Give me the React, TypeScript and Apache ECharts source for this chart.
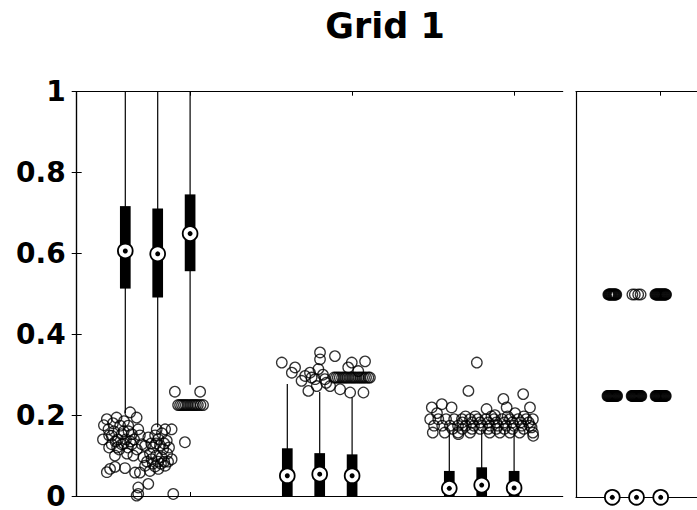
import React, { useEffect, useRef } from "react";
import * as echarts from "echarts";

// ---- Data ----
const titleText = "Grid 1";
const yTicks = { min: 0, max: 1, interval: 0.2 };
const leftTickPositions = [3.5, 8.5, 13.5];
const rightTickPositions = [3.5];

// box stats: [position, whiskerLow, q1, median, q3, whiskerHigh]
const leftBoxes = [
  [1.5, 0.205, 0.513, 0.606, 0.717, 1],
  [2.5, 0.17, 0.491, 0.599, 0.711, 1],
  [3.5, 0.275, 0.556, 0.649, 0.746, 1],
  [6.5, 0, 0, 0.05, 0.118, 0.277],
  [7.5, 0, 0, 0.054, 0.106, 0.257],
  [8.5, 0, 0, 0.05, 0.103, 0.244],
  [11.5, 0, 0, 0.019, 0.062, 0.16],
  [12.5, 0, 0, 0.027, 0.071, 0.165],
  [13.5, 0, 0, 0.02, 0.062, 0.16],
];
const rightBoxes = [
  [1.5, 0, 0, 0, 0, 0],
  [2.5, 0, 0, 0, 0, 0],
  [3.5, 0, 0, 0, 0, 0],
];

// scattered observations [x, value]
const group1Points = [
  [0.93, 0.19], [1.23, 0.194], [1.65, 0.207], [1.85, 0.194], [0.98, 0.165], [1.34, 0.174],
  [1.59, 0.174], [1.9, 0.165], [1.08, 0.149], [1.39, 0.153], [1.7, 0.153], [1.08, 0.128],
  [1.39, 0.128], [1.7, 0.128], [2.01, 0.128], [1.18, 0.1], [1.03, 0.067], [1.18, 0.072],
  [1.49, 0.069], [0.93, 0.059], [1.8, 0.058], [1.27, 0.14], [1.52, 0.14], [1.77, 0.14],
  [1.12, 0.18], [1.46, 0.185], [0.84, 0.175], [0.81, 0.14], [1.95, 0.15], [1.31, 0.115],
  [1.58, 0.12], [1.86, 0.115], [1.0, 0.15], [1.15, 0.16], [1.45, 0.16], [1.6, 0.16],
  [1.2, 0.135], [1.45, 0.13], [1.65, 0.135], [1.0, 0.12], [1.25, 0.12], [1.55, 0.105],
  [1.75, 0.1],
  [2.47, 0.165], [2.73, 0.165], [2.93, 0.165], [2.21, 0.145], [2.52, 0.141], [2.78, 0.137],
  [2.11, 0.124], [2.36, 0.12], [2.67, 0.116], [3.34, 0.133], [2.06, 0.096], [2.31, 0.091],
  [2.62, 0.096], [2.93, 0.091], [2.11, 0.075], [2.42, 0.073], [2.73, 0.075], [1.95, 0.058],
  [2.26, 0.062], [2.52, 0.067], [2.21, 0.03], [1.9, 0.021], [1.9, 0.005], [1.85, 0.001],
  [2.98, 0.005], [2.26, 0.105], [2.51, 0.085], [2.79, 0.105], [2.42, 0.15], [2.63, 0.155],
  [2.17, 0.085], [2.82, 0.085], [2.57, 0.125], [2.3, 0.13], [2.45, 0.13], [2.7, 0.13],
  [2.35, 0.08], [2.6, 0.08], [2.45, 0.1], [2.7, 0.085], [2.85, 0.12],
  [3.03, 0.258], [3.81, 0.258], [3.13, 0.225], [3.19, 0.225], [3.25, 0.225], [3.31, 0.225],
  [3.37, 0.225], [3.43, 0.225], [3.5, 0.225], [3.56, 0.225], [3.62, 0.225], [3.68, 0.225],
  [3.74, 0.225], [3.82, 0.225], [3.9, 0.225],
];
const group2Points = [
  [6.33, 0.33], [6.74, 0.318], [6.64, 0.305], [6.94, 0.285], [7.15, 0.26], [7.2, 0.305],
  [7.05, 0.297],
  [7.51, 0.355], [7.51, 0.338], [7.97, 0.346], [7.46, 0.314], [7.36, 0.289], [7.41, 0.272],
  [7.66, 0.289], [7.82, 0.272], [7.25, 0.293], [7.6, 0.3], [7.7, 0.28],
  [8.13, 0.264], [8.49, 0.33], [8.9, 0.333], [8.38, 0.318], [8.69, 0.309], [7.94, 0.293],
  [8.06, 0.293], [8.19, 0.293], [8.31, 0.293], [8.44, 0.293], [8.56, 0.293], [8.69, 0.293],
  [8.81, 0.293], [8.93, 0.293], [9.05, 0.293], [8.0, 0.293], [8.12, 0.293], [8.25, 0.293],
  [8.37, 0.293], [8.5, 0.293], [8.62, 0.293], [8.75, 0.293], [8.87, 0.293], [9.0, 0.293],
  [8.44, 0.256], [8.85, 0.256],
];
const group3Points = [
  [12.35, 0.33], [12.09, 0.26], [13.78, 0.252], [10.96, 0.219], [11.27, 0.227], [11.57, 0.219],
  [13.17, 0.24], [12.65, 0.215], [13.27, 0.219], [13.99, 0.219],
  [10.91, 0.19], [11.16, 0.19], [11.4, 0.19], [11.65, 0.19], [11.89, 0.19], [12.14, 0.19],
  [12.38, 0.19], [12.63, 0.19], [12.88, 0.19], [13.13, 0.19], [13.37, 0.19], [13.62, 0.19],
  [13.87, 0.19], [14.08, 0.19],
  [11.03, 0.174], [11.28, 0.174], [11.52, 0.174], [11.77, 0.174], [12.01, 0.174], [12.26, 0.174],
  [12.51, 0.174], [12.75, 0.174], [13.0, 0.174], [13.25, 0.174], [13.49, 0.174], [13.74, 0.174],
  [13.99, 0.174],
  [10.99, 0.157], [11.36, 0.157], [11.77, 0.157], [12.14, 0.157], [12.75, 0.157], [13.06, 0.157],
  [13.37, 0.157], [13.67, 0.157], [14.08, 0.157], [11.78, 0.153], [14.09, 0.149], [14.04, 0.17],
  [11.12, 0.205], [13.53, 0.205], [12.91, 0.2],
  [11.9, 0.182], [12.2, 0.182], [12.45, 0.182], [12.7, 0.182], [12.95, 0.182], [13.2, 0.182],
  [13.45, 0.182], [13.7, 0.182], [13.95, 0.182],
  [11.6, 0.166], [11.9, 0.166], [12.2, 0.166], [12.45, 0.166], [12.7, 0.166], [12.95, 0.166],
  [13.2, 0.166], [13.45, 0.166], [13.8, 0.166],
  [12.0, 0.197], [12.3, 0.197], [12.8, 0.197], [13.3, 0.197], [13.8, 0.197],
];
const rightPointsHigh = [
  [1.335, 0.5], [1.36, 0.5], [1.385, 0.5], [1.41, 0.5], [1.435, 0.5], [1.46, 0.5], [1.485, 0.5],
  [1.515, 0.5], [1.54, 0.5], [1.565, 0.5], [1.59, 0.5], [1.615, 0.5], [1.64, 0.5], [1.665, 0.5],
  [2.33, 0.5], [2.43, 0.5], [2.57, 0.5], [2.67, 0.5],
  [3.28, 0.5], [3.305, 0.5], [3.33, 0.5], [3.355, 0.5], [3.38, 0.5], [3.405, 0.5], [3.43, 0.5],
  [3.455, 0.5], [3.48, 0.5], [3.505, 0.5], [3.53, 0.5], [3.555, 0.5], [3.58, 0.5], [3.605, 0.5],
  [3.63, 0.5], [3.655, 0.5], [3.68, 0.5], [3.705, 0.5], [3.72, 0.5],
];
const rightPointsLow = [
  [1.3, 0.25], [1.325, 0.25], [1.35, 0.25], [1.375, 0.25], [1.4, 0.25], [1.425, 0.25], [1.45, 0.25],
  [1.475, 0.25], [1.5, 0.25], [1.525, 0.25], [1.55, 0.25], [1.575, 0.25], [1.6, 0.25], [1.625, 0.25],
  [1.65, 0.25], [1.675, 0.25], [1.7, 0.25],
  [2.3, 0.25], [2.325, 0.25], [2.35, 0.25], [2.375, 0.25], [2.4, 0.25], [2.425, 0.25], [2.45, 0.25],
  [2.475, 0.25], [2.5, 0.25], [2.525, 0.25], [2.55, 0.25], [2.575, 0.25], [2.6, 0.25], [2.625, 0.25],
  [2.65, 0.25], [2.675, 0.25], [2.7, 0.25],
  [3.29, 0.25], [3.315, 0.25], [3.34, 0.25], [3.365, 0.25], [3.39, 0.25], [3.415, 0.25], [3.44, 0.25],
  [3.465, 0.25], [3.49, 0.25], [3.515, 0.25], [3.54, 0.25], [3.565, 0.25], [3.59, 0.25], [3.615, 0.25],
  [3.64, 0.25], [3.665, 0.25], [3.69, 0.25], [3.71, 0.25],
];

const FONT = "DejaVu Sans";

function renderBox(params: any, api: any) {
  const x = api.value(0);
  const lo = api.coord([x, api.value(1)]);
  const q1 = api.coord([x, api.value(2)]);
  const med = api.coord([x, api.value(3)]);
  const q3 = api.coord([x, api.value(4)]);
  const hi = api.coord([x, api.value(5)]);
  const w = 10.7;
  return {
    type: "group",
    children: [
      { type: "line", shape: { x1: lo[0], y1: lo[1], x2: hi[0], y2: hi[1] }, style: { stroke: "#000", lineWidth: 1.2 } },
      { type: "rect", shape: { x: q3[0] - w / 2, y: q3[1], width: w, height: Math.max(0, q1[1] - q3[1]) }, style: { fill: "#000" } },
      { type: "circle", shape: { cx: med[0], cy: med[1], r: 7.4 }, style: { fill: "#fff", stroke: "#000", lineWidth: 1.8 } },
      { type: "circle", shape: { cx: med[0], cy: med[1], r: 2.5 }, style: { fill: "#000" } },
    ],
  };
}

const pointStyle = { color: "rgba(0,0,0,0)", borderColor: "#000", borderWidth: 1.3 };

export default function App() {
  const ref = useRef<HTMLDivElement>(null);
  useEffect(() => {
    if (!ref.current) return;
    const chart = echarts.init(ref.current, null, { renderer: "svg" });
    const gridTop = 91.7;
    const gridH = 405.6;
    const xBase = (gridIndex: number, min: number, max: number, position: string, ticks: number[] | null) => ({
      type: "value",
      gridIndex,
      min,
      max,
      position,
      axisLine: { show: true, onZero: false, lineStyle: { color: "#000", width: 1.2 } },
      axisTick: ticks
        ? { show: true, inside: true, length: 4, customValues: ticks, lineStyle: { color: "#000" } }
        : { show: false },
      axisLabel: { show: false },
      splitLine: { show: false },
    });
    const yAxisLine = { show: true, lineStyle: { color: "#000", width: 1.2 } };
    chart.setOption({
      animation: false,
      backgroundColor: "#fff",
      title: {
        text: titleText,
        left: 380,
        top: 3,
        textAlign: "center",
        textStyle: { fontFamily: FONT, fontWeight: "bold", fontSize: 35, color: "#000" },
      },
      grid: [
        { left: 76.7, top: gridTop, width: 486, height: gridH, show: false },
        { left: 576, top: gridTop, width: 121.5, height: gridH, show: false },
      ],
      xAxis: [
        xBase(0, 0, 15, "bottom", leftTickPositions),
        xBase(0, 0, 15, "top", leftTickPositions),
        xBase(1, 0, 5, "bottom", null),
        xBase(1, 0, 5, "top", rightTickPositions),
      ],
      yAxis: [
        {
          type: "value", gridIndex: 0, position: "left", min: yTicks.min, max: yTicks.max, interval: yTicks.interval,
          axisLine: yAxisLine,
          axisTick: { show: true, inside: true, length: 5, lineStyle: { color: "#000" } },
          axisLabel: { show: true, margin: 11, color: "#000", fontFamily: FONT, fontWeight: "bold", fontSize: 28 },
          splitLine: { show: false },
        },
        {
          type: "value", gridIndex: 0, position: "right", min: yTicks.min, max: yTicks.max, interval: yTicks.interval,
          axisLine: yAxisLine,
          axisTick: { show: true, inside: true, length: 5, lineStyle: { color: "#000" } },
          axisLabel: { show: false },
          splitLine: { show: false },
        },
        {
          type: "value", gridIndex: 1, position: "left", min: yTicks.min, max: yTicks.max, interval: yTicks.interval,
          axisLine: yAxisLine,
          axisTick: { show: false },
          axisLabel: { show: false },
          splitLine: { show: false },
        },
      ],
      series: [
        {
          type: "scatter", xAxisIndex: 0, yAxisIndex: 0, symbol: "circle", symbolSize: 10.5,
          itemStyle: pointStyle, data: [...group1Points, ...group2Points, ...group3Points], z: 2,
        },
        {
          type: "custom", xAxisIndex: 0, yAxisIndex: 0, renderItem: renderBox, data: leftBoxes, z: 3,
        },
        {
          type: "scatter", xAxisIndex: 2, yAxisIndex: 2, symbol: "circle", symbolSize: 10.5,
          itemStyle: pointStyle, data: [...rightPointsHigh, ...rightPointsLow], z: 2,
        },
        {
          type: "custom", xAxisIndex: 2, yAxisIndex: 2, renderItem: renderBox, data: rightBoxes, z: 3,
        },
      ],
    });
    return () => chart.dispose();
  }, []);
  return (
    <div
      ref={ref}
      style={{ position: "absolute", left: 0, top: 0, width: 697, height: 510, background: "#fff" }}
    />
  );
}
